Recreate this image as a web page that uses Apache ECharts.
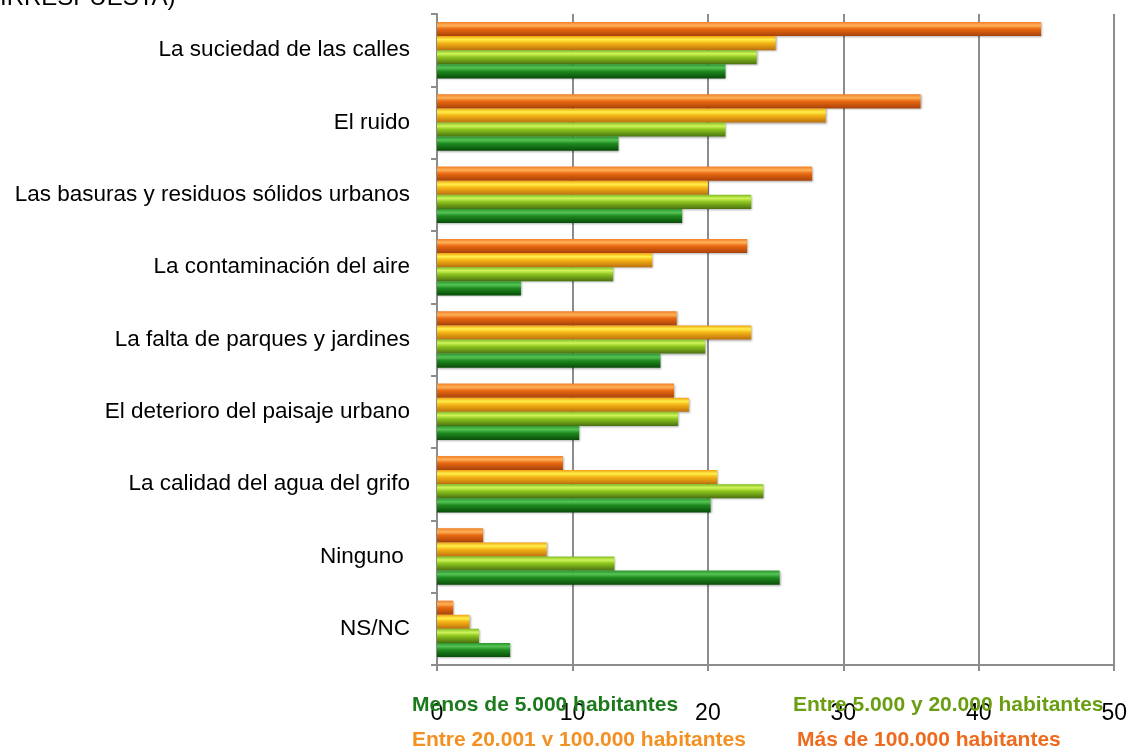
<!DOCTYPE html>
<html>
<head>
<meta charset="utf-8">
<script src="https://cdn.jsdelivr.net/npm/echarts@6/dist/echarts.min.js"></script>
<style>
  html, body { margin: 0; padding: 0; background: #fff; }
  #chart { width: 1130px; height: 746px; }
</style>
</head>
<body>
<div id="chart"></div>
<script>
    // categorias (de arriba a abajo)
    const categories = [
        'La suciedad de las calles',
        'El ruido',
        'Las basuras y residuos sólidos urbanos',
        'La contaminación del aire',
        'La falta de parques y jardines',
        'El deterioro del paisaje urbano',
        'La calidad del agua del grifo',
        'Ninguno ',
        'NS/NC'
    ];
    const seriesNames = [
        'Menos de 5.000 habitantes',
        'Entre 5.000 y 20.000 habitantes',
        'Entre 20.001 y 100.000 habitantes',
        'Más de 100.000 habitantes'
    ];
    const menos5000 = [21.3, 13.4, 18.1, 6.2, 16.5, 10.5, 20.2, 25.3, 5.4];
    const entre5000 = [23.6, 21.3, 23.2, 13.0, 19.8, 17.8, 24.1, 13.1, 3.1];
    const entre20001 = [25.0, 28.7, 20.0, 15.9, 23.2, 18.6, 20.7, 8.1, 2.4];
    const mas100000 = [44.6, 35.7, 27.7, 22.9, 17.7, 17.5, 9.3, 3.4, 1.2];
    const xTicks = [0, 10, 20, 30, 40, 50];

    const chart = echarts.init(document.getElementById('chart'));

    function tube(c0, c1, c2, c3) {
        return new echarts.graphic.LinearGradient(0, 0, 0, 1, [
            {offset: 0, color: c0},
            {offset: 0.25, color: c1},
            {offset: 0.5, color: c2},
            {offset: 1, color: c3}
        ]);
    }

    const fills = [
        tube('#2a942a', '#55c455', '#1f8a1f', '#084c08'),
        tube('#80bc22', '#d0f55a', '#8cc41e', '#4a7010'),
        tube('#f0a010', '#fff04a', '#f5b416', '#bc700c'),
        tube('#f28026', '#ffb058', '#e86810', '#a8420a')
    ];
    const textColors = ['#1c7a1c', '#6a9e12', '#f39021', '#ee6a1c'];
    const legendPos = [
        {left: 402, top: 690},
        {left: 783, top: 690},
        {left: 402, top: 725},
        {left: 787, top: 725}
    ];
    const values = [menos5000, entre5000, entre20001, mas100000];

    let legends = [];
    let series = [];
    for (let i = 0; i < seriesNames.length; ++i) {
        legends.push({
            data: [seriesNames[i]],
            left: legendPos[i].left,
            top: legendPos[i].top,
            icon: 'none',
            itemWidth: 0,
            itemHeight: 0,
            selectedMode: false,
            textStyle: {
                color: textColors[i],
                fontSize: 21,
                fontWeight: 'bold',
                fontFamily: 'Liberation Sans'
            }
        });
    }
    // la serie de mas habitantes va arriba dentro de cada categoria
    for (let i = seriesNames.length - 1; i >= 0; --i) {
        series.push({
            name: seriesNames[i],
            type: 'bar',
            data: values[i],
            barGap: '0%',
            barCategoryGap: '22%',
            itemStyle: {
                color: fills[i],
                shadowColor: 'rgba(0,0,0,0.3)',
                shadowBlur: 2,
                shadowOffsetX: 1,
                shadowOffsetY: 1
            }
        });
    }

    const options = {
        animation: false,
        legend: legends,
        graphic: [{
            type: 'text',
            left: 0,
            top: -14,
            style: {
                text: 'IRRESPUESTA)',
                fontSize: 24,
                fontFamily: 'Liberation Sans',
                fill: '#000'
            }
        }],
        grid: {
            left: 437,
            right: 15,
            top: 14,
            bottom: 81
        },
        xAxis: {
            type: 'value',
            min: xTicks[0],
            max: xTicks[xTicks.length - 1],
            interval: 10,
            axisLine: {show: true, lineStyle: {color: '#8c8c8c', width: 2}},
            axisTick: {show: true, length: 6, lineStyle: {color: '#8c8c8c', width: 2}},
            splitLine: {show: true, lineStyle: {color: '#8c8c8c', width: 2}},
            axisLabel: {
                margin: 37,
                color: '#000',
                fontSize: 23,
                fontFamily: 'Liberation Sans'
            }
        },
        yAxis: {
            type: 'category',
            inverse: true,
            data: categories,
            axisLine: {show: true, lineStyle: {color: '#8c8c8c', width: 2}},
            axisTick: {show: true, length: 6, lineStyle: {color: '#8c8c8c', width: 2}},
            axisLabel: {
                margin: 27,
                color: '#000',
                fontSize: 22.5,
                fontFamily: 'Liberation Sans'
            }
        },
        series: series
    };
    chart.setOption(options, true);
</script>
</body>
</html>
